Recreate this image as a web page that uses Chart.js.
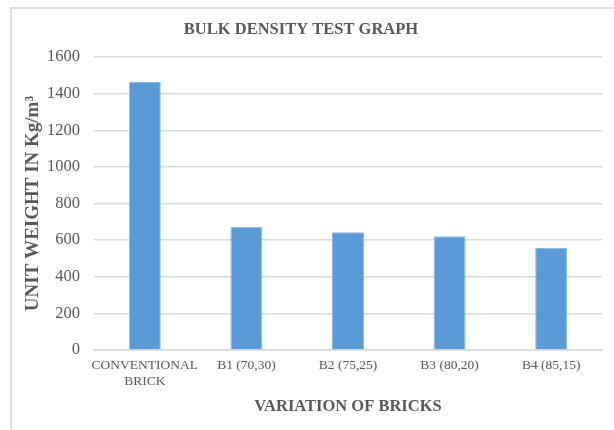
<!DOCTYPE html>
<html>
<head>
<meta charset="utf-8">
<script src="https://cdn.jsdelivr.net/npm/chart.js@4.4.1/dist/chart.umd.min.js"></script>
<style>
	html, body { margin: 0; padding: 0; background: #fff; }
	#frame {
		position: absolute; left: 10px; top: 7px; width: 604px; height: 423px;
		border-top: 2px solid #dedede; border-left: 2px solid #dedede;
		box-sizing: border-box;
	}
	#wrap { position: absolute; left: 0; top: 0; width: 614px; height: 430px; }
</style>
</head>
<body>
<div id="frame"></div>
<div id="wrap"><canvas id="bulkChart" width="614" height="430"></canvas></div>
<script>
// categorieen en waarden
const categories = [["CONVENTIONAL", "BRICK"], "B1 (70,30)", "B2 (75,25)", "B3 (80,20)", "B4 (85,15)"];
const unitWeight = [1463, 672, 643, 621, 557];
const yMin = 0;
const yMax = 1600;
const yStep = 200;

const textColor = "#595959";
const gridColor = "#d9d9d9";
const serif = "'Liberation Serif', 'Times New Roman', serif";

const ctx = document.getElementById("bulkChart").getContext("2d");
const chart = new Chart(ctx, {
	type: "bar",
	data: {
		labels: categories,
		datasets: [
			{
				label: "Unit weight",
				data: unitWeight,
				backgroundColor: "#5b9bd5",
				borderColor: "#8fbbe4",
				borderWidth: 1,
				barPercentage: 0.315,
				categoryPercentage: 1,
			},
		],
	},
	options: {
		responsive: false,
		animation: false,
		layout: { padding: { top: 0, left: 0, right: 12, bottom: 0 } },
		plugins: {
			legend: { display: false },
			tooltip: { enabled: false },
			title: {
				display: true,
				text: "BULK DENSITY TEST GRAPH",
				color: textColor,
				font: { family: serif, size: 16.5, weight: "bold" },
				padding: { top: 20, bottom: 17.2 },
			},
		},
		scales: {
			x: {
				grid: { display: false, drawTicks: false },
				border: { display: true, color: gridColor, width: 1.5 },
				ticks: {
					color: textColor,
					font: { family: serif, size: 13.5 },
					padding: 7,
					maxRotation: 0,
					autoSkip: false,
				},
				title: {
					display: true,
					text: "VARIATION OF BRICKS",
					color: textColor,
					font: { family: serif, size: 16.5, weight: "bold" },
					padding: { top: 0, bottom: 13 },
				},
				afterFit: (scale) => { scale.height = 80; },
			},
			y: {
				min: yMin,
				max: yMax,
				grid: { color: gridColor, lineWidth: 1.5, drawTicks: false },
				border: { display: false },
				ticks: {
					stepSize: yStep,
					color: textColor,
					font: { family: serif, size: 16.5 },
					padding: 14,
					callback: (value) => String(value),
				},
				title: {
					display: true,
					text: "UNIT WEIGHT IN Kg/m³",
					color: textColor,
					font: { family: serif, size: 19, weight: "bold" },
					padding: { top: 22, bottom: 0 },
				},
				afterFit: (scale) => { scale.width = 94; },
			},
		},
	},
});
</script>
</body>
</html>
